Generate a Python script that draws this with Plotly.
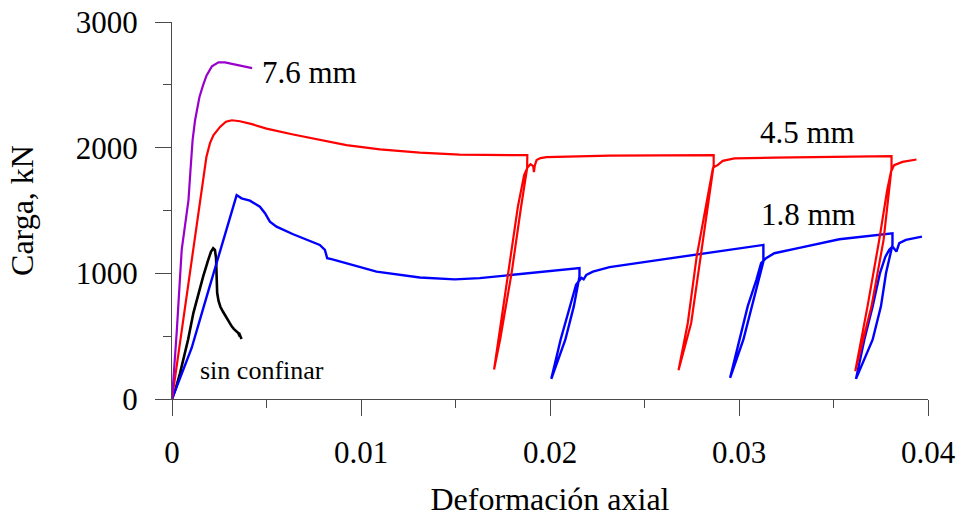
import plotly.graph_objects as go

# --- axis ticks ---
x_tick_vals = [0, 0.01, 0.02, 0.03, 0.04]
x_tick_text = ["0", "0.01", "0.02", "0.03", "0.04"]
y_tick_vals = [0, 1000, 2000, 3000]
y_tick_text = ["0", "1000", "2000", "3000"]

# --- 7.6 mm confinement ---
strain_76 = [0, 0.000248, 0.000513, 0.000872, 0.000978, 0.00109, 0.00122, 0.00145, 0.00164,
             0.00183, 0.00211, 0.00246, 0.0028, 0.00323, 0.0037, 0.00424]
load_76 = [0, 528, 1187, 1583, 1821, 2060, 2218, 2401, 2496,
           2575, 2647, 2679, 2679, 2667, 2651, 2633]

# --- 4.5 mm confinement (with three unload/reload cycles) ---
strain_45 = [0, 0.000687, 0.00122, 0.00148, 0.00164, 0.00182, 0.00201, 0.00219, 0.00254, 0.00285,
             0.00317, 0.00359, 0.00423, 0.005, 0.00641, 0.00786, 0.00923, 0.011, 0.01311, 0.01522,
             0.01734, 0.0188,
             0.01879, 0.01847, 0.01797, 0.01736, 0.01704,
             0.01726, 0.01779, 0.0183, 0.01863, 0.01882, 0.01897, 0.01911, 0.01915, 0.0192,
             0.01929, 0.0195, 0.01982, 0.02315, 0.02866,
             0.02866, 0.02796, 0.02747, 0.0268,
             0.02729, 0.02776, 0.02838, 0.02862, 0.0287, 0.02887, 0.02914, 0.02976, 0.03187,
             0.03531, 0.03807,
             0.03807, 0.03765, 0.03701, 0.03615,
             0.0368, 0.03742, 0.03784, 0.03804, 0.03821, 0.03865, 0.03939]
load_45 = [0, 726, 1266, 1567, 1742, 1925, 2036, 2099, 2165, 2206,
           2218, 2210, 2187, 2152, 2105, 2060, 2020, 1986, 1960, 1944,
           1940, 1940,
           1837, 1530, 1004, 472, 234,
           472, 1004, 1530, 1782, 1845, 1869, 1853, 1806, 1861,
           1901, 1917, 1925, 1937, 1940,
           1861, 1133, 605, 229,
           605, 1133, 1663, 1837, 1848, 1861, 1895, 1914, 1921,
           1927, 1933,
           1835, 1266, 737, 221,
           737, 1266, 1663, 1808, 1861, 1887, 1906]

# --- 1.8 mm confinement (with three unload/reload cycles) ---
strain_18 = [0, 0.00048, 0.00104, 0.00183, 0.00263, 0.00342, 0.00368, 0.00412, 0.00465, 0.00492,
             0.00518, 0.00553, 0.00641, 0.00782, 0.00809, 0.00821, 0.00844, 0.00923, 0.01082,
             0.01311, 0.01496, 0.01628, 0.01892, 0.02156,
             0.02156, 0.02126, 0.02081, 0.02007,
             0.02056, 0.02104, 0.02138, 0.02151, 0.02167, 0.02178, 0.02192, 0.02227, 0.02315,
             0.02579, 0.02844, 0.03129,
             0.03129, 0.03067, 0.03023, 0.02953,
             0.03002, 0.03046, 0.03092, 0.03117, 0.03143, 0.03187, 0.03319, 0.03531, 0.03812,
             0.03812, 0.03778, 0.03751, 0.03707, 0.03619,
             0.03663, 0.03707, 0.03746, 0.03774, 0.03795, 0.03812, 0.03833, 0.03848, 0.03883,
             0.03968]
load_18 = [0, 194, 406, 812, 1218, 1623, 1597, 1578, 1530, 1478,
           1411, 1371, 1311, 1226, 1187, 1121, 1113, 1081, 1014,
           967, 952, 962, 1000, 1041,
           975, 737, 472, 160,
           472, 737, 909, 935, 964, 952, 988, 1014, 1049,
           1107, 1167, 1226,
           1094, 737, 472, 168,
           472, 737, 948, 1081, 1121, 1160, 1202, 1271, 1319,
           1226, 1002, 737, 472, 160,
           472, 737, 1002, 1131, 1187, 1213, 1173, 1240, 1266,
           1292]

# --- unconfined specimen ---
strain_sc = [0, 0.00021, 0.00042, 0.0006, 0.00085, 0.00113, 0.00137, 0.00165, 0.0019, 0.00206,
             0.00218, 0.00227, 0.00233, 0.00235, 0.00237, 0.00239, 0.00246, 0.00256, 0.0027,
             0.0028, 0.00293, 0.00304, 0.00316, 0.00328, 0.00338, 0.00351, 0.00359, 0.00354,
             0.00368]
load_sc = [0, 91, 202, 313, 472, 684, 829, 975, 1099, 1171,
           1200, 1187, 1123, 1028, 948, 845, 782, 734, 694,
           667, 639, 607, 578, 556, 544, 524, 498, 528,
           478]

SERIF = "Liberation Serif, Times New Roman, serif"
AXIS_COLOR = "#4a4a4a"

fig = go.Figure()
fig.add_trace(go.Scatter(x=strain_sc, y=load_sc, mode="lines",
                         line=dict(color="black", width=2.6), showlegend=False))
fig.add_trace(go.Scatter(x=strain_18, y=load_18, mode="lines",
                         line=dict(color="#0000FF", width=2.4), showlegend=False))
fig.add_trace(go.Scatter(x=strain_45, y=load_45, mode="lines",
                         line=dict(color="#FF0000", width=2.2), showlegend=False))
fig.add_trace(go.Scatter(x=strain_76, y=load_76, mode="lines",
                         line=dict(color="#9900CC", width=2.2), showlegend=False))

labels = [
    ("7.6 mm", 0.00465, 2595, 31),
    ("4.5 mm", 0.03099, 2123, 31),
    ("1.8 mm", 0.03108, 1467, 31),
    ("sin confinar", 0.00139, 225, 26),
]
for text, lx, ly, size in labels:
    fig.add_annotation(x=lx, y=ly, text=text, showarrow=False, xanchor="left", yanchor="middle",
                       font=dict(family=SERIF, size=size, color="black"))

axis_common = dict(
    showline=True, linecolor=AXIS_COLOR, linewidth=1.3,
    ticks="outside", ticklen=16, tickwidth=1.3, tickcolor=AXIS_COLOR,
    showgrid=False, zeroline=False,
    tickfont=dict(family=SERIF, size=31, color="black"),
)

fig.update_xaxes(
    range=[0, 0.04], tickmode="array", tickvals=x_tick_vals, ticktext=x_tick_text,
    minor=dict(tickmode="linear", tick0=0, dtick=0.005, ticks="outside", ticklen=8,
               tickwidth=1.3, tickcolor=AXIS_COLOR, showgrid=False),
    title=dict(text="Deformación axial", font=dict(family=SERIF, size=32, color="black"),
               standoff=18),
    ticklabelstandoff=10,
    **axis_common,
)
fig.update_yaxes(
    range=[0, 3000], tickmode="array", tickvals=y_tick_vals, ticktext=y_tick_text,
    minor=dict(tickmode="linear", tick0=0, dtick=500, ticks="outside", ticklen=8,
               tickwidth=1.3, tickcolor=AXIS_COLOR, showgrid=False),
    title=dict(text="Carga, kN", font=dict(family=SERIF, size=32, color="black"),
               standoff=32),
    ticklabelstandoff=11,
    **axis_common,
)

fig.update_layout(
    width=960, height=518,
    margin=dict(l=172, r=32, t=21.5, b=118.5, autoexpand=False),
    paper_bgcolor="white", plot_bgcolor="white",
)

fig.write_html("out.html")
